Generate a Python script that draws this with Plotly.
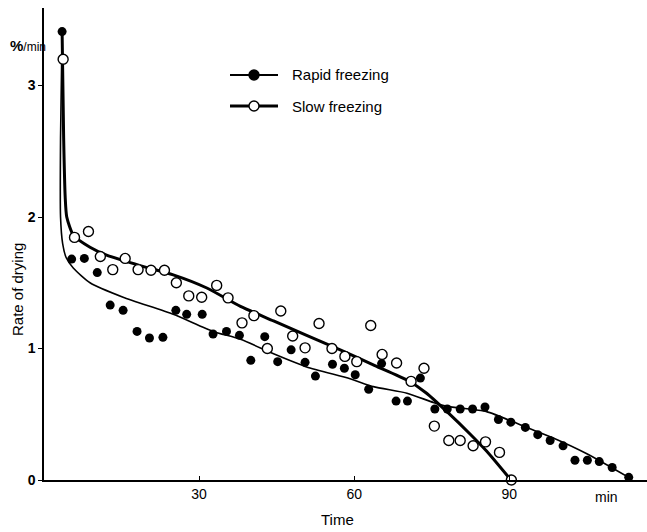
import plotly.graph_objects as go

# ---- data ----
rapid_t = [3.5, 5.35, 7.8, 10.3, 12.8, 15.3, 18.0, 20.4, 23.0, 25.5, 27.6, 30.6, 32.7, 35.3,
           37.8, 40.0, 42.7, 45.2, 47.8, 50.5, 52.5, 55.8, 58.1, 60.2, 62.8, 65.3, 68.1, 70.3,
           72.8, 75.6, 78.0, 80.5, 82.9, 85.3, 87.9, 90.3, 93.1, 95.5, 97.9, 100.4, 102.7,
           105.1, 107.4, 109.9, 113.1]
rapid_y = [3.41, 1.68, 1.685, 1.577, 1.33, 1.29, 1.13, 1.08, 1.085, 1.29, 1.26, 1.26, 1.11, 1.13,
           1.10, 0.91, 1.09, 0.90, 0.99, 0.895, 0.79, 0.88, 0.85, 0.80, 0.69, 0.885, 0.60, 0.60,
           0.775, 0.54, 0.54, 0.54, 0.54, 0.555, 0.46, 0.44, 0.40, 0.345, 0.30, 0.26, 0.15,
           0.15, 0.14, 0.095, 0.02]

slow_t = [3.7, 5.9, 8.6, 10.9, 13.3, 15.7, 18.2, 20.7, 23.3, 25.6, 28.0, 30.5, 33.4, 35.6,
          38.3, 40.6, 43.2, 45.8, 48.1, 50.5, 53.2, 55.7, 58.2, 60.5, 63.2, 65.4, 68.2, 71.0,
          73.5, 75.5, 78.3, 80.5, 83.0, 85.4, 88.1, 90.4]
slow_y = [3.2, 1.845, 1.89, 1.70, 1.60, 1.685, 1.60, 1.595, 1.595, 1.50, 1.40, 1.39, 1.48, 1.385,
          1.195, 1.25, 1.00, 1.285, 1.095, 1.005, 1.19, 1.00, 0.94, 0.90, 1.175, 0.955, 0.89, 0.75,
          0.85, 0.41, 0.30, 0.30, 0.26, 0.29, 0.21, 0.0]

# drawn (fitted) curves
rapid_curve_t = [3.5, 3.2, 3.2, 3.6, 4.3, 5.7, 8.9, 15.3, 25.0, 32.7, 38.0, 44.4, 50.8, 59.2,
                 63.7, 70.2, 75.3, 78.0, 85.6, 92.1, 98.5, 105.0, 113.1]
rapid_curve_y = [3.41, 2.6, 2.0, 1.8, 1.69, 1.61, 1.50, 1.39, 1.26, 1.13, 1.07, 0.96, 0.86, 0.77,
                 0.71, 0.66, 0.59, 0.56, 0.52, 0.42, 0.32, 0.20, 0.02]

slow_curve_t = [3.5, 3.8, 4.1, 4.4, 5.7, 8.9, 12.1, 18.6, 25.0, 31.5, 38.0, 44.4, 50.8, 57.3,
                64.0, 70.2, 74.0, 78.2, 82.4, 85.6, 90.3]
slow_curve_y = [3.41, 2.6, 2.15, 2.0, 1.86, 1.77, 1.71, 1.63, 1.56, 1.46, 1.32, 1.21, 1.10, 0.99,
                0.87, 0.76, 0.66, 0.51, 0.35, 0.22, 0.0]

x_ticks = [30, 60, 90]
y_ticks = [0, 1, 2, 3]
series_names = ["Rapid freezing", "Slow freezing"]

FONT = "Liberation Sans Narrow, Liberation Sans, Arial, sans-serif"

fig = go.Figure()
fig.add_trace(go.Scatter(x=rapid_curve_t, y=rapid_curve_y, mode="lines",
                         line=dict(color="black", width=1.6, shape="spline", smoothing=0.6),
                         showlegend=False, hoverinfo="skip", cliponaxis=False))
fig.add_trace(go.Scatter(x=slow_curve_t, y=slow_curve_y, mode="lines",
                         line=dict(color="black", width=3, shape="spline", smoothing=0.6),
                         showlegend=False, hoverinfo="skip", cliponaxis=False))
fig.add_trace(go.Scatter(x=rapid_t, y=rapid_y, mode="markers", name=series_names[0],
                         marker=dict(color="black", size=9, line=dict(width=0)),
                         showlegend=False, cliponaxis=False))
fig.add_trace(go.Scatter(x=slow_t, y=slow_y, mode="markers", name=series_names[1],
                         marker=dict(color="white", size=10, line=dict(color="black", width=1.4)),
                         showlegend=False, cliponaxis=False))

W, H = 647, 532
L, R, T, B = 44, 0, 8, 52
pw, ph = W - L - R, H - T - B

def px(xp):
    return (xp - L) / pw

def py(yp):
    return (H - B - yp) / ph

shapes = []
annotations = []
# manual legend
legend_rows = [(75, 2.0, "black"), (106, 3.0, "white")]
for (yp, lw, fill), name in zip(legend_rows, series_names):
    shapes.append(dict(type="line", xref="paper", yref="paper", x0=px(230), x1=px(278),
                       y0=py(yp), y1=py(yp), line=dict(color="black", width=lw)))
    shapes.append(dict(type="circle", xref="paper", yref="paper", xsizemode="pixel",
                       ysizemode="pixel", xanchor=px(254), yanchor=py(yp),
                       x0=-5, x1=5, y0=-5, y1=5, fillcolor=fill,
                       line=dict(color="black", width=1.4)))
    annotations.append(dict(xref="paper", yref="paper", x=px(290), y=py(yp), text=name,
                            showarrow=False, xanchor="left", yanchor="middle",
                            font=dict(family=FONT, size=15, color="black")))

annotations += [
    dict(xref="paper", yref="paper", x=px(28), y=py(45),
         text="<b>%</b><span style='font-size:12px'>/min</span>", showarrow=False,
         xanchor="center", yanchor="middle", font=dict(family=FONT, size=15, color="black")),
    dict(xref="paper", yref="paper", x=px(17), y=py(290), text="Rate of drying", showarrow=False,
         textangle=-90, xanchor="center", yanchor="middle",
         font=dict(family=FONT, size=15, color="black")),
    dict(xref="paper", yref="paper", x=px(337), y=py(519), text="Time", showarrow=False,
         xanchor="center", yanchor="middle", font=dict(family=FONT, size=15, color="black")),
    dict(xref="paper", yref="paper", x=px(606), y=py(497), text="min", showarrow=False,
         xanchor="center", yanchor="middle", font=dict(family=FONT, size=14, color="black")),
]

fig.update_layout(
    width=W, height=H,
    margin=dict(l=L, r=R, t=T, b=B),
    paper_bgcolor="white", plot_bgcolor="white",
    shapes=shapes, annotations=annotations,
    font=dict(family=FONT, size=14, color="black"),
    xaxis=dict(range=[0, pw / 5.17], tickvals=x_ticks, ticktext=[str(v) for v in x_ticks],
               showgrid=False, zeroline=False, showline=True, linecolor="black", linewidth=1.5,
               ticks="inside", ticklen=4, tickcolor="black", tickfont=dict(size=14),
               fixedrange=True),
    yaxis=dict(range=[0, ph / 131.5], tickvals=y_ticks,
               ticktext=["<b>%d</b>" % v for v in y_ticks],
               showgrid=False, zeroline=False, showline=True, linecolor="black", linewidth=1.5,
               ticks="outside", ticklen=4, tickcolor="black",
               tickfont=dict(size=14, family="Liberation Sans Narrow, Liberation Sans, Arial"),
               fixedrange=True),
    showlegend=False,
)

fig.write_html("out.html", config={"displayModeBar": False},
               post_script="document.body.style.margin='0';document.body.style.padding='0';")
